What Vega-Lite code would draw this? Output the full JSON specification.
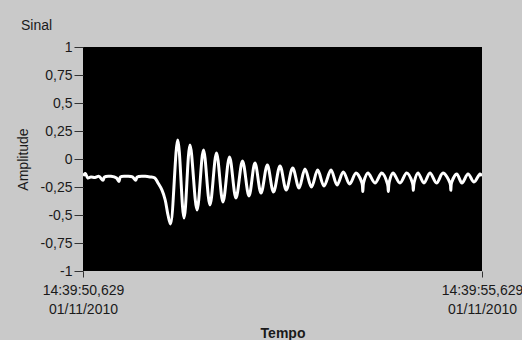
{
  "$schema": "https://vega.github.io/schema/vega-lite/v6.json",
  "autosize": "none",
  "width": 399,
  "height": 224,
  "padding": {"left": 83, "top": 47, "right": 40, "bottom": 69},
  "background": "#c9c9c9",
  "title": {"text": "Sinal", "anchor": "start", "frame": "group", "dx": -62, "dy": 23, "offset": 19, "baseline": "alphabetic", "font": "Liberation Sans", "fontSize": 14, "fontWeight": "normal", "color": "#1a1a1a"},
  "config": {"view": {"fill": "black", "stroke": null}, "font": "Liberation Sans"},
  "data": {"values": [
    {"t": 0.00, "v": -0.15}, {"t": 0.03, "v": -0.13}, {"t": 0.06, "v": -0.17}, {"t": 0.10, "v": -0.16},
    {"t": 0.15, "v": -0.165}, {"t": 0.20, "v": -0.155}, {"t": 0.25, "v": -0.19}, {"t": 0.27, "v": -0.16},
    {"t": 0.35, "v": -0.155}, {"t": 0.42, "v": -0.17}, {"t": 0.45, "v": -0.2}, {"t": 0.47, "v": -0.16},
    {"t": 0.55, "v": -0.155}, {"t": 0.62, "v": -0.16}, {"t": 0.66, "v": -0.19}, {"t": 0.68, "v": -0.16},
    {"t": 0.78, "v": -0.155}, {"t": 0.84, "v": -0.16}, {"t": 0.90, "v": -0.17}, {"t": 0.94, "v": -0.214},
    {"t": 0.99, "v": -0.277}, {"t": 1.03, "v": -0.366}, {"t": 1.065, "v": -0.5}, {"t": 1.097, "v": -0.58},
    {"t": 1.187, "v": 0.17}, {"t": 1.266, "v": -0.527}, {"t": 1.341, "v": 0.125}, {"t": 1.429, "v": -0.455},
    {"t": 1.51, "v": 0.08}, {"t": 1.591, "v": -0.41}, {"t": 1.673, "v": 0.054}, {"t": 1.754, "v": -0.384},
    {"t": 1.836, "v": 0.018}, {"t": 1.917, "v": -0.348}, {"t": 1.999, "v": -0.018}, {"t": 2.08, "v": -0.33},
    {"t": 2.155, "v": -0.036}, {"t": 2.231, "v": -0.304}, {"t": 2.31, "v": -0.054}, {"t": 2.387, "v": -0.295},
    {"t": 2.469, "v": -0.0625}, {"t": 2.547, "v": -0.277}, {"t": 2.628, "v": -0.08}, {"t": 2.707, "v": -0.259},
    {"t": 2.782, "v": -0.089}, {"t": 2.863, "v": -0.25}, {"t": 2.941, "v": -0.098}, {"t": 3.02, "v": -0.241},
    {"t": 3.108, "v": -0.098}, {"t": 3.183, "v": -0.232}, {"t": 3.262, "v": -0.116}, {"t": 3.342, "v": -0.223},
    {"t": 3.421, "v": -0.125}, {"t": 3.496, "v": -0.214}, {"t": 3.506, "v": -0.29}, {"t": 3.516, "v": -0.21},
    {"t": 3.571, "v": -0.125}, {"t": 3.659, "v": -0.214}, {"t": 3.743, "v": -0.125}, {"t": 3.816, "v": -0.223},
    {"t": 3.826, "v": -0.29}, {"t": 3.836, "v": -0.21},
    {"t": 3.885, "v": -0.125}, {"t": 3.972, "v": -0.214}, {"t": 4.056, "v": -0.125}, {"t": 4.129, "v": -0.214},
    {"t": 4.139, "v": -0.28}, {"t": 4.149, "v": -0.21},
    {"t": 4.198, "v": -0.125}, {"t": 4.273, "v": -0.214}, {"t": 4.348, "v": -0.125}, {"t": 4.43, "v": -0.214},
    {"t": 4.511, "v": -0.125}, {"t": 4.599, "v": -0.214}, {"t": 4.609, "v": -0.28}, {"t": 4.619, "v": -0.21},
    {"t": 4.683, "v": -0.134}, {"t": 4.749, "v": -0.214}, {"t": 4.825, "v": -0.134}, {"t": 4.9, "v": -0.205},
    {"t": 4.975, "v": -0.134}, {"t": 5.0, "v": -0.152}
  ]},
  "mark": {"type": "line", "color": "white", "strokeWidth": 3, "interpolate": "catmull-rom", "clip": true},
  "encoding": {
    "x": {"field": "t", "type": "quantitative",
      "scale": {"domain": [0, 5], "nice": false, "zero": false},
      "axis": {"values": [0, 5], "title": "Tempo", "titleFont": "Liberation Sans", "titleFontSize": 14, "titleFontWeight": "bold", "titleColor": "#1a1a1a",
        "titleX": 199.5, "titleY": 62, "titleBaseline": "middle", "titleAlign": "center",
        "grid": false, "domain": false, "ticks": true, "tickSize": 6, "tickColor": "#333",
        "labelFont": "Liberation Sans", "labelFontSize": 14, "labelColor": "#1a1a1a", "labelPadding": 6, "labelLineHeight": 19,
        "labelFlush": false, "labelOverlap": false, "labelBound": false,
        "labelExpr": "datum.value == 0 ? ['14:39:50,629', '01/11/2010'] : ['14:39:55,629', '01/11/2010']"}},
    "y": {"field": "v", "type": "quantitative",
      "scale": {"domain": [-1, 1], "nice": false, "zero": false},
      "axis": {"values": [-1, -0.75, -0.5, -0.25, 0, 0.25, 0.5, 0.75, 1], "title": "Amplitude", "titleFont": "Liberation Sans", "titleFontSize": 14, "titleFontWeight": "normal", "titleColor": "#1a1a1a",
        "titleX": -60, "titleY": 112, "titleBaseline": "middle", "titleAlign": "center", "titleAngle": -90,
        "grid": false, "domain": false, "ticks": true, "tickSize": 9, "tickColor": "#333",
        "labelFont": "Liberation Sans", "labelFontSize": 14, "labelColor": "#1a1a1a", "labelPadding": 2,
        "labelFlush": false, "labelOverlap": false, "labelBound": false,
        "labelExpr": "(datum.value < 0 ? '-' : '') + replace(format(abs(datum.value), '~g'), '.', ',')"}}
  }
}
